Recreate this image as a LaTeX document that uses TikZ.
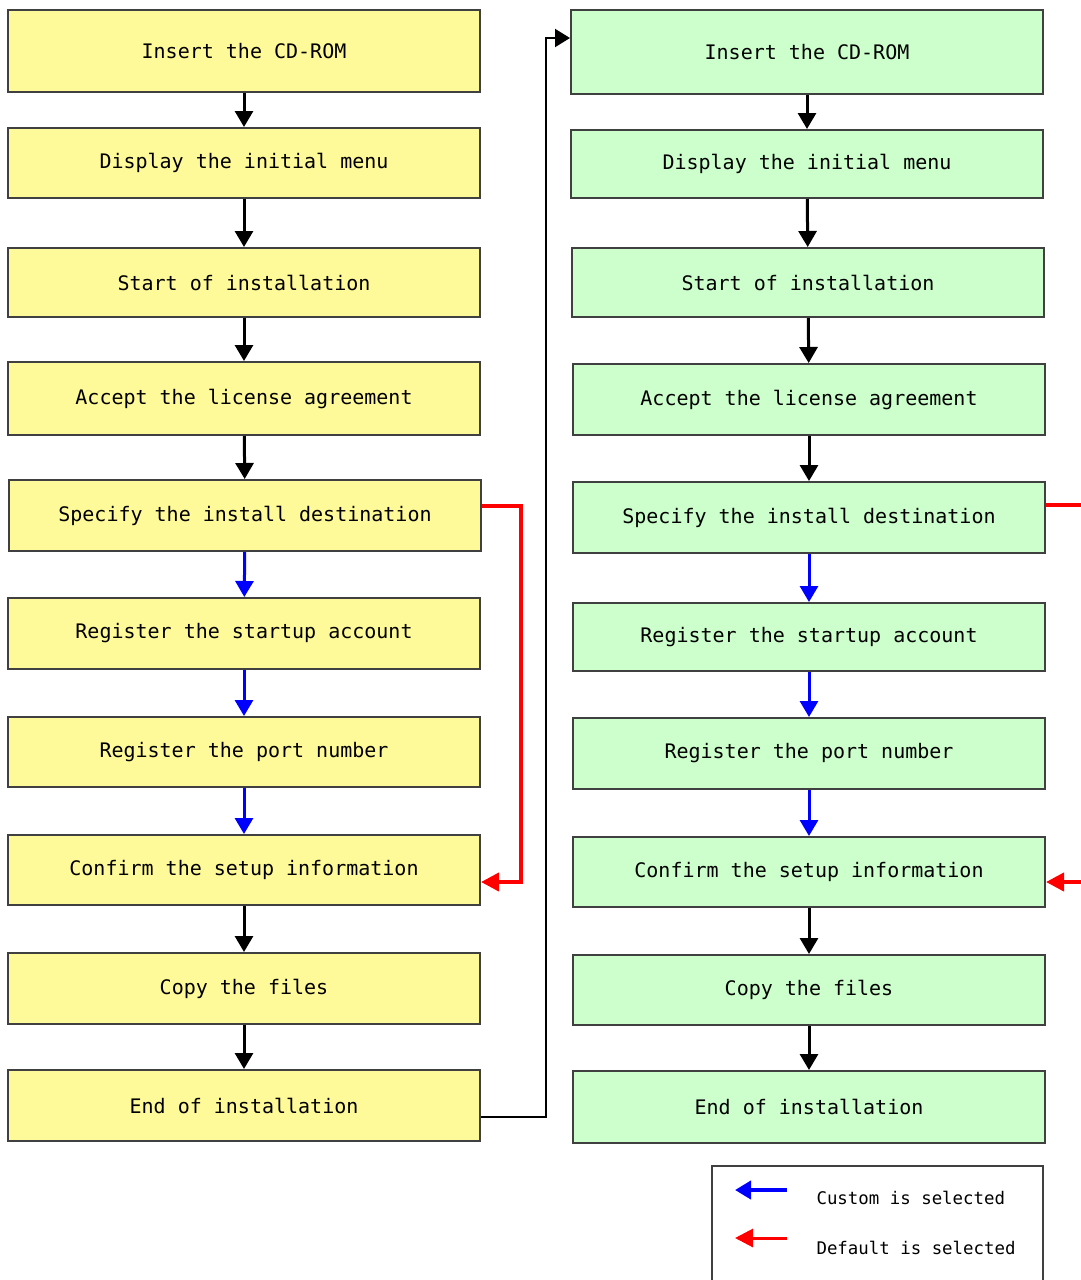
\documentclass[tikz,border=0pt]{standalone}
\usepackage{fontspec}
\setmainfont{DejaVu Sans Mono}
\usepackage{tikz}
\usetikzlibrary{arrows.meta}
\usetikzlibrary{positioning}

\begin{document}
\begin{tikzpicture}[x=1pt, y=-1pt,
        stepl/.style={rectangle, draw=black!75, fill=yellow!40, line width=2pt, minimum width=472pt, inner sep=0pt, font=\fontsize{20pt}{22pt}\selectfont},
        stepr/.style={rectangle, draw=black!75, fill=green!20, line width=2pt, minimum width=472pt, inner sep=0pt, font=\fontsize{20pt}{22pt}\selectfont},
        flow/.style={line width=3pt, -{Triangle[width=18pt,length=16pt]}},
        custom/.style={flow, blue},
        default/.style={line width=4pt, red, -{Triangle[width=18pt,length=18pt]}},
        legendbox/.style={rectangle, draw=black!75, line width=2pt, minimum width=331pt, minimum height=130pt}
      ]
        \useasboundingbox[fill=white] (0,0) rectangle (1081,1280);

        % left column
        \node[stepl, minimum height=82pt]  (l1)  at (244, 51)     {Insert the CD-ROM};
        \node[stepl, minimum height=70pt]  (l2)  at (244, 163)    {Display the initial menu};
        \node[stepl, minimum height=69pt]  (l3)  at (244, 282.5)  {Start of installation};
        \node[stepl, minimum height=73pt]  (l4)  at (244, 398.5)  {Accept the license agreement};
        \node[stepl, minimum height=71pt]  (l5)  at (245, 515.5)  {Specify the install destination};
        \node[stepl, minimum height=71pt]  (l6)  at (244, 633.5)  {Register the startup account};
        \node[stepl, minimum height=70pt]  (l7)  at (244, 752)    {Register the port number};
        \node[stepl, minimum height=70pt]  (l8)  at (244, 870)    {Confirm the setup information};
        \node[stepl, minimum height=71pt]  (l9)  at (244, 988.5)  {Copy the files};
        \node[stepl, minimum height=71pt]  (l10) at (244, 1105.5) {End of installation};

        % right column
        \node[stepr, minimum height=84pt]  (r1)  at (807, 52)     {Insert the CD-ROM};
        \node[stepr, minimum height=68pt]  (r2)  at (807, 164)    {Display the initial menu};
        \node[stepr, minimum height=69pt]  (r3)  at (808, 282.5)  {Start of installation};
        \node[stepr, minimum height=71pt]  (r4)  at (809, 399.5)  {Accept the license agreement};
        \node[stepr, minimum height=71pt]  (r5)  at (809, 517.5)  {Specify the install destination};
        \node[stepr, minimum height=68pt]  (r6)  at (809, 637)    {Register the startup account};
        \node[stepr, minimum height=71pt]  (r7)  at (809, 753.5)  {Register the port number};
        \node[stepr, minimum height=70pt]  (r8)  at (809, 872)    {Confirm the setup information};
        \node[stepr, minimum height=70pt]  (r9)  at (809, 990)    {Copy the files};
        \node[stepr, minimum height=72pt]  (r10) at (809, 1107)   {End of installation};

        \coordinate (routl) at (521, 0);
        \coordinate (jump)  at (546, 0);
        \coordinate (redout) at (1081, 505);
        \coordinate (redin)  at (1081, 882);

        % left arrows
        \draw[flow]    (l1) -- (l2);
        \draw[flow]    (l2) -- (l3);
        \draw[flow]    (l3) -- (l4);
        \draw[flow]    (l4) -- (l5);
        \draw[custom]  (l5) -- (l6);
        \draw[custom]  (l6) -- (l7);
        \draw[custom]  (l7) -- (l8);
        \draw[flow]    (l8) -- (l9);
        \draw[flow]    (l9) -- (l10);
        \draw[default] ([yshift=10pt]l5.east) -| ([yshift=-12pt]routl |- l8.east) -- ([yshift=-12pt]l8.east);

        % right arrows
        \draw[flow]    (r1) -- (r2);
        \draw[flow]    (r2) -- (r3);
        \draw[flow]    (r3) -- (r4);
        \draw[flow]    (r4) -- (r5);
        \draw[custom]  (r5) -- (r6);
        \draw[custom]  (r6) -- (r7);
        \draw[custom]  (r7) -- (r8);
        \draw[flow]    (r8) -- (r9);
        \draw[flow]    (r9) -- (r10);
        \draw[line width=4pt, red] ([yshift=12.5pt]r5.east) -- (redout);
        \draw[default] (redin) -- ([yshift=-10pt]r8.east);

        % jump to second column
        \draw[line width=2pt, black!75, -{Triangle[width=18pt,length=15pt]}, black]
            ([yshift=-11.5pt]l10.east) -| ([yshift=14pt]jump |- r1.west) -- ([yshift=14pt]r1.west);

        % legend
        \node[legendbox] (legend) at (877.5, 1231) {};
        \coordinate (cs) at (787, 1190);
        \coordinate (ds) at (787, 1238);
        \draw[custom, line width=4pt] (cs) -- ++(-52, 0);
        \draw[default, line width=3pt] (ds) -- ++(-52, 0);
        \node[anchor=west, font=\fontsize{17.4pt}{20pt}\selectfont] (clabel) at (813, 1198) {Custom is selected};
        \node[anchor=west, font=\fontsize{17.4pt}{20pt}\selectfont] (dlabel) at (813, 1248) {Default is selected};
      \end{tikzpicture}
\end{document}
